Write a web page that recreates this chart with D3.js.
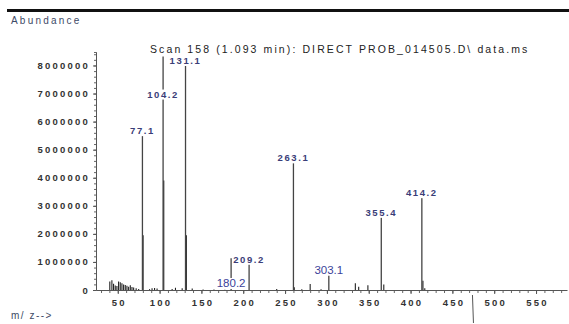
<!DOCTYPE html>
<html lang="en">
<head>
<meta charset="utf-8">
<title>Mass spectrum</title>
<script src="https://d3js.org/d3.v7.min.js"></script>
<style>
  body { margin: 0; background: #fff; }
  text { font-family: Arial, "Liberation Sans", sans-serif; }
</style>
</head>
<body>
<script>
// labelled peaks (m/z, abundance)
var peakLabels = ["77.1", "104.2", "131.1", "180.2", "209.2", "263.1", "303.1", "355.4", "414.2"];
var peakMz     = [79.5, 104.2, 131.0, 185.5, 207.0, 260.0, 302.3, 365.0, 413.5];
var peakAbund  = [5500000, 8320000, 8000000, 1130000, 920000, 4530000, 530000, 2590000, 3290000];

// unlabelled small peaks
var minorMz    = [40.5, 43, 45, 47, 49, 51, 53, 55, 57, 59, 61, 63, 65, 67, 69, 72, 75,
                  80.3, 88, 91, 94, 97, 105, 115, 119, 127, 132, 139, 152, 165, 178,
                  240, 261, 270, 280, 293, 334, 338, 349, 368, 414.8, 417];
var minorAbund = [300000, 350000, 220000, 160000, 140000, 300000, 280000, 240000, 200000, 180000, 150000, 120000, 170000, 110000, 90000, 60000, 40000,
                  1950000, 30000, 60000, 70000, 50000, 3900000, 40000, 80000, 60000, 1950000, 50000, 20000, 15000, 10000,
                  40000, 100000, 30000, 210000, 30000, 240000, 120000, 170000, 200000, 330000, 60000];

var yTicks = [0, 1000000, 2000000, 3000000, 4000000, 5000000, 6000000, 7000000, 8000000];
var xTicks = [50, 100, 150, 200, 250, 300, 350, 400, 450, 500, 550];

var title = "Scan 158 (1.093 min): DIRECT PROB_014505.D\\ data.ms";
var cursorMz = 474;

// labels that sit lower than their peak top (anchored at this abundance)
var labelAnchor = { "104.2": 7000000, "180.2": 250000 };
var serifLabels = ["180.2", "303.1"];

var width = 569, height = 324;

var svg = d3.select("body").append("svg")
    .attr("width", width)
    .attr("height", height);

var x = d3.scaleLinear().domain([24, 587]).range([96, 567]);
var y = d3.scaleLinear().domain([0, 8480000]).range([290, 52]);

// top rule
svg.append("line")
    .attr("x1", 7).attr("x2", width)
    .attr("y1", 10.5).attr("y2", 10.5)
    .attr("stroke", "#111").attr("stroke-width", 3);

svg.append("text")
    .attr("x", 11).attr("y", 24)
    .attr("font-size", 10)
    .attr("letter-spacing", 2.2)
    .attr("fill", "#3d4a66")
    .text("Abundance");

svg.append("text")
    .attr("x", 11).attr("y", 319)
    .attr("font-size", 10)
    .attr("letter-spacing", 1.5)
    .attr("fill", "#3d4a66")
    .text("m/ z-->");

svg.append("text")
    .attr("x", 150).attr("y", 53)
    .attr("font-size", 10.5)
    .attr("letter-spacing", 2.1)
    .attr("fill", "#222")
    .text(title);

// minor ticks
svg.append("g")
    .attr("transform", "translate(96,0)")
    .call(d3.axisLeft(y).tickValues(d3.range(0, 8400001, 200000)).tickSize(2).tickFormat(""))
    .call(function(g) { g.selectAll("line, path").attr("stroke", "#666"); });

svg.append("g")
    .attr("transform", "translate(0,290)")
    .call(d3.axisBottom(x).tickValues(d3.range(30, 581, 10)).tickSize(3).tickFormat(""))
    .call(function(g) { g.select(".domain").remove(); g.selectAll("line").attr("stroke", "#666"); });

// main axes
var yAxis = svg.append("g")
    .attr("transform", "translate(96,0)")
    .call(d3.axisLeft(y).tickValues(yTicks).tickSize(3).tickPadding(3).tickFormat(d3.format("d")).tickSizeOuter(0));

var xAxis = svg.append("g")
    .attr("transform", "translate(0,290)")
    .call(d3.axisBottom(x).tickValues(xTicks).tickSize(4).tickPadding(5).tickSizeOuter(0));

[yAxis, xAxis].forEach(function(g) {
    g.attr("font-family", "Arial, 'Liberation Sans', sans-serif").attr("font-size", 10);
    g.selectAll("path, line").attr("stroke", "#555");
    g.selectAll("text").attr("fill", "#333").attr("letter-spacing", 2.2).attr("font-weight", "bold").attr("font-size", 9.5);
});
xAxis.selectAll("text").attr("dx", 1);

// peaks
svg.append("g").selectAll("line")
    .data(d3.zip(minorMz, minorAbund))
    .enter().append("line")
    .attr("x1", function(d) { return x(d[0]); })
    .attr("x2", function(d) { return x(d[0]); })
    .attr("y1", y(0))
    .attr("y2", function(d) { return y(d[1]); })
    .attr("stroke", "#222")
    .attr("stroke-width", 1.1);

var peaks = d3.zip(peakLabels, peakMz, peakAbund);

svg.append("g").selectAll("line")
    .data(peaks)
    .enter().append("line")
    .attr("x1", function(d) { return x(d[1]); })
    .attr("x2", function(d) { return x(d[1]); })
    .attr("y1", y(0))
    .attr("y2", function(d) { return y(d[2]); })
    .attr("stroke", "#444")
    .attr("stroke-width", 1.3);

var lab = svg.append("g").selectAll("g")
    .data(peaks)
    .enter().append("g")
    .attr("transform", function(d) {
        var a = labelAnchor[d[0]];
        var yy = a !== undefined ? y(a) + 4 : y(d[2]) - 1.5;
        return "translate(" + x(d[1]) + "," + yy + ")";
    });

lab.append("text")
    .attr("text-anchor", "middle")
    .each(function(d) {
        var t = d3.select(this);
        if (serifLabels.indexOf(d[0]) >= 0) {
            t.attr("font-family", "'Liberation Serif', 'Times New Roman', serif")
             .attr("font-size", 11.5).attr("fill", "#3b3f9a");
        } else {
            t.attr("font-size", 9.5).attr("font-weight", "bold")
             .attr("letter-spacing", 1.6).attr("fill", "#3a3d78");
        }
    })
    .text(function(d) { return d[0]; });

// white box behind each label so it cuts the bar line
lab.insert("rect", "text")
    .each(function() {
        var b = this.parentNode.querySelector("text").getBBox();
        d3.select(this)
            .attr("x", b.x - 1).attr("y", b.y + 1)
            .attr("width", b.width + 2).attr("height", b.height - 1)
            .attr("fill", "#fff");
    });

// cursor mark under the axis
svg.append("line")
    .attr("x1", x(cursorMz)).attr("x2", x(cursorMz) + 1)
    .attr("y1", 295).attr("y2", 323)
    .attr("stroke", "#555").attr("stroke-width", 1);
</script>
</body>
</html>
